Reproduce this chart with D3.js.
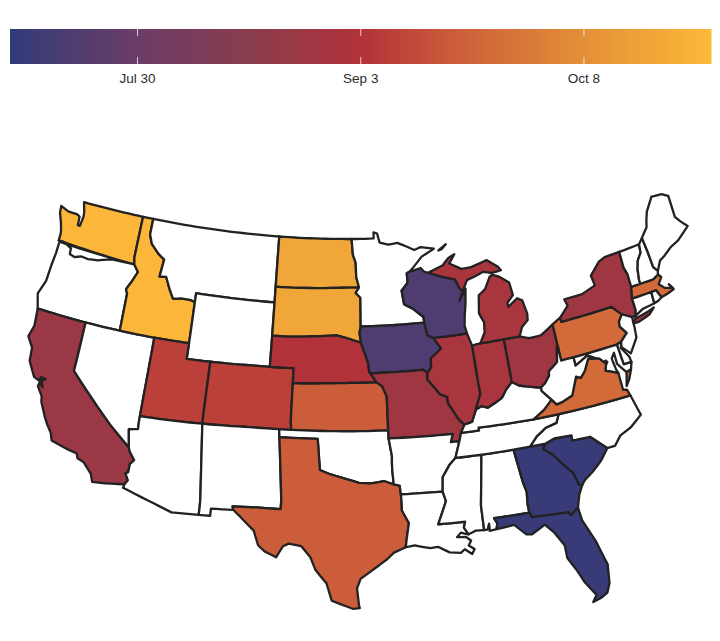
<!DOCTYPE html>
<html>
<head>
<meta charset="utf-8">
<script src="https://d3js.org/d3.v7.min.js"></script>
<style>
  html, body { margin: 0; padding: 0; background: #fff; }
  text { font-family: "Liberation Sans", Arial, sans-serif; }
</style>
</head>
<body>
<div id="chart"></div>
<script>
// Dates. Years don't matter, only the order on the bar.
var state_names = ["WA","ID","ND","SD","MA","PA","VA","KS","TX","CA","UT","CO","NE","IL","IN","MI","MO","OH","NY","WI","IA","GA","SC","FL"];
var state_dates = ["Oct 27","Oct 27","Oct 19","Oct 19","Sep 23","Sep 23","Sep 23","Sep 18","Sep 18","Aug 24","Sep 8","Sep 8","Sep 3","Aug 30","Aug 30","Aug 30","Aug 26","Aug 26","Aug 26","Jul 20","Jul 20","Jul 12","Jul 12","Jul 12"];

var tick_labels = ["Jul 30", "Sep 3", "Oct 8"];
var color_dates = ["Jul 10", "Jul 30", "Aug 18", "Sep 3", "Sep 20", "Oct 8", "Oct 28"];
var color_values = ["#323b7a", "#6b3d66", "#8c3c4c", "#b23239", "#cf633a", "#e38f37", "#fdb93a"];

// Shared borders in lon/lat, reused by both neighbours.
var columbia = [[-116.92,46.0],[-118.98,46.0],[-119.3,45.93],[-120.2,45.73],[-121.1,45.65],[-121.7,45.7],[-122.3,45.55],[-122.76,45.65],[-122.8,46.0],[-123.2,46.15],[-123.55,46.26],[-124.05,46.27]];
var snake = [[-116.92,46.0],[-116.47,45.6],[-116.85,44.95],[-117.2,44.45],[-117.03,44.2],[-117.03,42]];
var colorado = [[-114.63,35.0],[-114.57,34.8],[-114.15,34.27],[-114.45,34.0],[-114.52,33.5],[-114.72,33.4],[-114.5,33.0],[-114.72,32.72]];
var bitterroot = [[-116.05,48.0],[-115.72,47.45],[-114.95,46.93],[-114.35,46.65],[-114.5,45.6],[-113.9,45.65],[-113.45,45.0],[-113.0,44.45],[-112.3,44.55],[-111.5,44.55],[-111.05,44.48]];
var red_north = [[-97.23,49],[-97.1,48],[-96.85,47.5],[-96.8,46.6],[-96.56,45.94]];
var red_south = [[-94.48,33.64],[-95.2,33.88],[-96.2,33.75],[-97.1,33.8],[-97.9,34.0],[-98.5,34.15],[-99.2,34.3],[-100,34.56]];
var big_sioux = [[-96.45,43.5],[-96.55,43.1],[-96.45,42.49]];
var missouri_ne = [[-96.45,42.49],[-96.1,41.7],[-95.9,41.2],[-95.85,40.7]];
var missouri_ks = [[-95.31,40],[-94.9,39.75],[-94.6,39.1]];
var miss_upper = [[-92.29,46.07],[-92.87,45.6],[-92.75,44.75],[-92,44.4],[-91.25,43.85],[-91.22,43.5]];
var miss_ia = [[-91.22,43.5],[-91.1,42.7],[-90.65,42.5]];
var miss_il_ia = [[-90.65,42.5],[-90.15,41.8],[-91.05,41.25],[-91.1,40.7],[-91.42,40.38]];
var miss_il_mo = [[-91.42,40.38],[-91.5,40],[-91,39.4],[-90.7,39],[-90.2,38.8],[-90.2,38.4],[-89.9,37.95],[-89.5,37.3],[-89.13,36.98]];
var miss_ar = [[-89.7,36],[-90.1,35]];
var miss_ar_ms = [[-90.1,35],[-90.6,34.6],[-91.1,33.9],[-91.17,33]];
var miss_la = [[-91.17,33],[-91,32.4],[-91.6,31]];
var sabine = [[-94.04,33],[-94.04,32],[-93.55,31.2],[-93.7,30.5],[-93.85,29.7]];
var savannah = [[-83.1,35],[-83.35,34.7],[-82.75,34.3],[-82,33.5],[-81.4,32.9],[-81.1,32.1],[-80.87,32.03]];
var ohio_ky_il = [[-89.13,36.98],[-88.5,37.1],[-88.05,37.8]];
var ohio_ky_in = [[-88.05,37.8],[-87.6,37.95],[-87.1,37.8],[-86.5,38],[-85.85,38.25],[-85.4,38.7],[-84.82,39.1]];
var ohio_ky_oh = [[-84.82,39.1],[-84.3,38.8],[-83.7,38.65],[-82.6,38.4]];
var ohio_wv = [[-82.6,38.4],[-82.2,38.6],[-81.75,39],[-81.7,39.25],[-80.87,39.7],[-80.6,40.6],[-80.52,40.64]];
var wabash = [[-87.53,41.7],[-87.53,39.35],[-87.5,38.7],[-87.95,38],[-88.05,37.8]];
var tug_fork = [[-82.6,38.4],[-82.6,38.2],[-81.97,37.54]];
var va_ky = [[-81.97,37.54],[-82.7,37.05],[-83.68,36.6]];
var va_wv = [[-77.75,39.3],[-78.35,39.4],[-78.85,38.75],[-79.3,38.4],[-79.65,38.55],[-80.3,37.5],[-81.2,37.25],[-81.67,37.2],[-81.97,37.54]];
var potomac = [[-76.3,38.05],[-76.95,38.3],[-77.25,38.4],[-77.05,38.8],[-77.45,39.2],[-77.75,39.3]];
var tn_nc = [[-81.68,36.59],[-82,36.1],[-82.9,35.95],[-83.7,35.55],[-84.32,35]];
var sc_nc = [[-83.1,35],[-82.4,35.2],[-81.05,35.15],[-81.05,34.85],[-80.8,34.82],[-79.67,34.8],[-78.55,33.86]];
var ny_pa_nj = [[-75.35,42],[-74.7,41.36]];
var delaware = [[-74.7,41.36],[-75.1,41],[-75.15,40.7],[-74.75,40.2],[-75.4,39.8]];
var ct_river = [[-71.5,45],[-71.6,44.5],[-72.05,44.1],[-72.3,43.6],[-72.45,43],[-72.46,42.73]];
var vt_ny = [[-73.27,42.75],[-73.25,43.55],[-73.4,44],[-73.35,45]];
var wi_up = [[-90.4,46.55],[-89.1,46.15],[-88.1,45.9],[-87.85,45.35],[-87.6,45.1]];
var nh_me = [[-71.08,45.3],[-71,44.3],[-70.98,43.4],[-70.7,43.07]];

function rv(a) { return a.slice().reverse(); }

var outlines = {
  WA: [[[-122.76,49],[-117.03,49],[-117.04,46.42],...columbia,[-124.05,46.7],[-124.1,46.9],[-124.3,47.35],[-124.65,47.95],[-124.72,48.38],[-123.95,48.17],[-123.1,48.15],[-122.8,48.05],[-122.75,47.5],[-122.55,47.5],[-122.45,48.1],[-122.5,48.4]]],
  OR: [[...rv(columbia),[-123.95,46.2],[-123.97,45.5],[-124.07,44.7],[-124.15,43.7],[-124.55,42.84],[-124.21,42],[-120,42],[-117.03,42],...rv(snake).slice(1)]],
  CA: [[[-124.21,42],[-120,42],[-120,39],...colorado,[-117.12,32.53],[-117.28,33],[-117.9,33.6],[-118.4,33.75],[-118.5,34.03],[-119.2,34.15],[-120.5,34.45],[-120.65,34.9],[-121.3,35.7],[-121.9,36.6],[-122,36.95],[-122.5,37.5],[-122.45,37.75],[-122.1,37.5],[-122.35,37.9],[-122.05,38.05],[-122.45,38.1],[-122.5,37.85],[-123,38],[-123.7,38.9],[-123.8,39.7],[-124.35,40.3],[-124.1,41]]],
  NV: [[[-120,42],[-117.03,42],[-114.04,42],[-114.04,36.2],[-114.75,36.1],[-114.63,35],[-120,39]]],
  ID: [[[-117.03,49],[-116.05,49],...bitterroot,[-111.05,42],[-114.04,42],...rv(snake),[-117.04,46.42]]],
  MT: [[[-116.05,49],[-104.05,49],[-104.05,45.94],[-104.05,45],[-111.05,45],...rv(bitterroot)]],
  WY: [[[-111.05,45],[-104.05,45],[-104.05,43],[-104.05,41],[-111.05,41]]],
  UT: [[[-114.04,42],[-111.05,42],[-111.05,41],[-109.05,41],[-109.05,37],[-114.04,37]]],
  CO: [[[-109.05,41],[-102.05,41],[-102.05,37],[-103,37],[-109.05,37]]],
  AZ: [[[-114.04,37],[-109.05,37],[-109.05,31.33],[-111.07,31.33],[-114.81,32.5],...rv(colorado),[-114.75,36.1],[-114.04,36.2]]],
  NM: [[[-109.05,37],[-103,37],[-103,36.5],[-103.04,32],[-106.62,32],[-106.53,31.78],[-108.2,31.78],[-108.2,31.33],[-109.05,31.33]]],
  ND: [[[-104.05,49],...red_north,[-104.05,45.94]]],
  SD: [[[-104.05,45.94],[-96.56,45.94],[-96.85,45.6],[-96.45,45.3],...big_sioux,[-97.85,42.85],[-98.5,43],[-104.05,43]]],
  NE: [[[-104.05,43],[-98.5,43],[-97.85,42.85],...missouri_ne,[-95.31,40],[-102.05,40],[-102.05,41],[-104.05,41]]],
  KS: [[[-102.05,40],...missouri_ks,[-94.62,37],[-102.05,37]]],
  OK: [[[-103,37],[-94.62,37],[-94.62,36.5],[-94.43,35.4],...red_south,[-100,36.5],[-103,36.5]]],
  TX: [[[-103,36.5],[-100,36.5],...rv(red_south),[-94.04,33.55],...sabine,[-94.7,29.4],[-95.2,29],[-96,28.5],[-97.1,27.8],[-97.35,27.2],[-97.2,26.1],[-97.15,25.96],[-97.6,25.9],[-98.5,26.2],[-99.1,26.4],[-99.5,27.5],[-100.3,28.3],[-100.7,29.1],[-101.4,29.77],[-102.3,29.88],[-102.7,29.7],[-103.15,28.98],[-104,29.3],[-104.5,29.65],[-104.9,30.55],[-106,31.4],[-106.53,31.78],[-106.62,32],[-103.04,32]]],
  MN: [[[-97.23,49],[-95.15,49],[-95.15,49.38],[-94.82,49.3],[-94.6,48.72],[-93.8,48.55],[-92.95,48.62],[-92,48.3],[-91.4,48.07],[-90.8,48.2],[-89.6,48],[-90.8,47.6],[-92,46.75],[-92.29,46.66],...miss_upper,[-96.45,43.5],[-96.45,45.3],[-96.85,45.6],...rv(red_north)]],
  IA: [[[-96.45,43.5],...miss_ia,...miss_il_ia,[-91.72,40.6],[-95.77,40.58],...rv(missouri_ne),...rv(big_sioux).slice(1)]],
  MO: [[[-95.77,40.58],[-91.72,40.6],...miss_il_mo,[-89.5,36.5],[-89.7,36],[-90.37,36],[-90.15,36.5],[-94.62,36.5],[-94.62,37],...rv(missouri_ks),[-95.85,40.7]]],
  AR: [[[-94.62,36.5],[-90.15,36.5],[-90.37,36],...miss_ar,...miss_ar_ms,[-94.04,33],[-94.04,33.55],[-94.48,33.64],[-94.43,35.4]]],
  LA: [[[-94.04,33],...miss_la,[-89.73,31],[-89.85,30.65],[-89.55,30.2],[-90.1,30.35],[-90.4,30.1],[-89.75,30.05],[-89.4,29.8],[-89.6,29.5],[-89.2,29.25],[-89.4,28.95],[-89.9,29.3],[-90.2,29.1],[-91,29.2],[-91.7,29.6],[-92.2,29.55],[-93.2,29.78],...rv(sabine)]],
  MS: [[[-90.1,35],[-88.2,35],[-88.1,34.9],[-88.47,31.9],[-88.4,30.35],[-89,30.38],[-89.55,30.2],[-89.85,30.65],[-89.73,31],...rv(miss_la),...rv(miss_ar_ms).slice(1)]],
  AL: [[[-88.2,35],[-85.6,35],[-85.18,32.87],[-85,32.3],[-85.05,31.55],[-85,31],[-87.6,31],[-87.4,30.65],[-87.5,30.3],[-88,30.25],[-88,30.7],[-88.15,30.35],[-88.4,30.35],[-88.47,31.9],[-88.1,34.9]]],
  GA: [[[-85.6,35],...savannah,[-81.2,31.5],[-81.45,30.72],[-82.05,30.36],[-82.2,30.57],[-84.86,30.7],[-85,31],[-85.05,31.55],[-85,32.3],[-85.18,32.87]]],
  FL: [[[-87.6,31],[-85,31],[-84.86,30.7],[-82.2,30.57],[-82.05,30.36],[-81.45,30.72],[-81.3,29.9],[-80.6,28.5],[-80.05,26.9],[-80.15,25.75],[-80.4,25.2],[-80.9,24.95],[-81.45,24.8],[-81.15,25.2],[-81.8,26.1],[-82.2,26.9],[-82.75,27.8],[-82.8,28.6],[-83.4,29.5],[-84,30.1],[-85,29.65],[-85.4,29.7],[-86.2,30.4],[-87.5,30.3],[-87.4,30.65]]],
  SC: [[...sc_nc,[-79.2,33.2],[-79.9,32.7],[-80.6,32.3],...rv(savannah).slice(0,-1)]],
  NC: [[[-81.68,36.59],[-75.87,36.55],[-75.5,35.25],[-76.5,34.7],[-77.4,34.4],[-77.95,33.87],...rv(sc_nc),...rv(tn_nc)]],
  TN: [[[-89.7,36],[-89.5,36.5],[-88.07,36.5],[-88.07,36.68],[-83.68,36.6],...tn_nc,[-85.6,35],[-88.2,35],[-90.1,35]]],
  KY: [[[-89.5,36.5],...ohio_ky_il,...ohio_ky_in,...ohio_ky_oh,...tug_fork,...va_ky,[-88.07,36.68],[-88.07,36.5]]],
  IL: [[[-90.65,42.5],[-87.8,42.5],...wabash,...rv(ohio_ky_il),...rv(miss_il_mo),...rv(miss_il_ia)]],
  IN: [[...wabash.slice(0,1),[-87.2,41.75],[-86.82,41.76],[-84.8,41.76],...rv(ohio_ky_in),...rv(wabash).slice(0,-1)]],
  OH: [[[-84.8,41.76],[-83.45,41.73],[-82.7,41.5],[-81.7,41.5],[-80.52,41.98],...rv(ohio_wv),...rv(ohio_ky_oh)]],
  MI: [
    [[-86.82,41.76],[-86.3,42.4],[-86.2,43],[-86.5,43.6],[-86.25,44.7],[-85.6,45],[-85,45.7],[-84.75,45.78],[-84.2,45.6],[-83.4,45.1],[-83.3,44.3],[-83.9,43.9],[-83.9,43.65],[-83,44.05],[-82.6,43.85],[-82.42,43],[-82.5,42.6],[-83.1,42.25],[-83.45,41.73],[-84.8,41.76]],
    [...wi_up,[-87.05,45.75],[-86.5,45.85],[-85.5,46.08],[-84.75,45.9],[-83.9,45.95],[-84.1,46.2],[-84.5,46.45],[-85,46.75],[-86.5,46.5],[-87.4,46.5],[-88.4,46.95],[-87.8,47.47],[-88.4,47.3],[-89,46.9]],
    [[-89.2,47.85],[-88.45,48.17],[-88.9,47.9]]
  ],
  WI: [[[-92.29,46.66],[-92,46.75],[-91,46.9],[-90.75,46.65],...wi_up,[-88,44.55],[-87.3,45.25],[-87.5,44.4],[-87.75,43.6],[-87.9,43],[-87.8,42.5],[-90.65,42.5],...rv(miss_ia),...rv(miss_upper)]],
  PA: [[[-80.52,41.98],[-79.76,42.27],[-79.76,42],...ny_pa_nj,...delaware,[-75.79,39.72],[-79.48,39.72],[-80.52,39.72],[-80.52,40.64]]],
  NY: [
    [[-79.76,42.27],[-78.9,42.85],[-79.05,43.27],[-77.5,43.27],[-76.2,43.55],[-76.3,44.2],[-75.3,44.85],[-74.7,45],...rv(vt_ny),[-73.5,42.05],[-73.5,41.3],[-73.65,41],[-73.95,41],[-74.7,41.36],[-75.35,42],[-79.76,42]],
    [[-74,40.6],[-73.75,40.85],[-72.6,40.98],[-72,41.1],[-72.5,40.8],[-73.5,40.6]]
  ],
  NJ: [[[-74.7,41.36],[-73.95,41],[-74,40.6],[-74,40.4],[-74.1,39.75],[-74.9,38.95],[-75.5,39.5],...rv(delaware).slice(0,-1)]],
  DE: [[[-75.79,39.72],[-75.4,39.8],[-75.55,39.45],[-75.1,38.8],[-75.05,38.45],[-75.7,38.45]]],
  MD: [[[-79.48,39.72],[-75.79,39.72],[-75.7,38.45],[-75.05,38.45],[-75.25,38.03],[-75.65,37.95],[-76.2,38.6],[-76.2,39.3],[-76.5,39],[-76.4,38.3],...potomac,[-78.35,39.6],[-79.48,39.2]]],
  DC: [[[-77.12,38.93],[-77.04,39],[-76.91,38.89],[-77.04,38.79]]],
  VA: [
    [[-83.68,36.6],[-75.87,36.55],[-76,36.93],[-76.3,37],[-76.3,37.6],...potomac,...va_wv,...va_ky],
    [[-75.25,38.03],[-75.65,37.95],[-75.95,37.15],[-75.6,37.5]]
  ],
  WV: [[[-80.52,40.64],[-80.52,39.72],[-79.48,39.72],[-79.48,39.2],[-78.35,39.6],...va_wv,...rv(tug_fork),...ohio_wv]],
  MA: [[[-73.5,42.05],[-73.27,42.75],[-72.46,42.73],[-71.3,42.7],[-70.8,42.87],[-70.6,42.65],[-71,42.3],[-70.6,41.95],[-70.05,41.8],[-70.2,42.07],[-70,41.8],[-69.95,41.68],[-70.65,41.55],[-71.13,41.5],[-71.38,42.02],[-71.8,42.02]]],
  CT: [[[-73.5,42.05],[-71.8,42.02],[-71.85,41.32],[-72.9,41.25],[-73.65,41],[-73.5,41.3]]],
  RI: [[[-71.8,42.02],[-71.38,42.02],[-71.13,41.5],[-71.5,41.37],[-71.85,41.32]]],
  VT: [[[-73.35,45],...ct_river,...vt_ny.slice(0,-1)]],
  NH: [[...ct_river,[-71.3,42.7],[-70.8,42.87],...rv(nh_me)]],
  ME: [[...nh_me,[-70.25,43.6],[-69.8,43.75],[-69,44.1],[-68.2,44.3],[-67,44.85],[-67.45,45.3],[-67.79,45.7],[-67.79,47.07],[-68.3,47.35],[-69,47.43],[-69.23,47.46],[-70,46.7],[-70.25,46.2],[-70.4,45.8]]]
};

var width = 720, height = 641;
var parse_date = d3.timeParse("%b %d %Y");
function to_date(s) { return parse_date(s + " 2020"); }

var svg = d3.select("#chart").append("svg")
  .attr("width", width)
  .attr("height", height)
  .style("display", "block");

var color = d3.scaleTime()
  .domain(color_dates.map(to_date))
  .range(color_values)
  .interpolate(d3.interpolateRgb);

// Colour bar.
var bar_x = d3.scaleTime()
  .domain([to_date("Jul 10"), to_date("Oct 28")])
  .range([10, 711.5]);
var bar_top = 29, bar_height = 35;

var grad = svg.append("defs").append("linearGradient").attr("id", "bar_fill");
grad.selectAll("stop")
  .data(color_dates)
  .enter().append("stop")
  .attr("offset", function(d) { return (bar_x(to_date(d)) - 10) / 701.5; })
  .attr("stop-color", function(d) { return color(to_date(d)); });

svg.append("rect")
  .attr("x", bar_x.range()[0])
  .attr("y", bar_top)
  .attr("width", bar_x.range()[1] - bar_x.range()[0])
  .attr("height", bar_height)
  .attr("fill", "url(#bar_fill)");

var ticks = svg.append("g").selectAll("g")
  .data(tick_labels)
  .enter().append("g")
  .attr("transform", function(d) { return "translate(" + bar_x(to_date(d)) + ",0)"; });

ticks.append("line").attr("y1", bar_top).attr("y2", bar_top + 7)
  .attr("stroke", "#fff").attr("stroke-opacity", 0.75);
ticks.append("line").attr("y1", bar_top + bar_height - 7).attr("y2", bar_top + bar_height)
  .attr("stroke", "#fff").attr("stroke-opacity", 0.75);
ticks.append("text")
  .attr("y", 82.5)
  .attr("text-anchor", "middle")
  .attr("fill", "#2b2b2b")
  .style("font-size", "13.5px")
  .text(function(d) { return d; });

// Map. Albers, then a small pull to match the source's shape, which isn't quite a clean conic.
var albers = d3.geoAlbers()
  .rotate([97, 0])
  .center([0, 49])
  .parallels([29.5, 45.5])
  .scale(915)
  .translate([354, 239]);

function clamp(v) { return Math.max(0, Math.min(1, v)); }

function warp(p) {
  var x = p[0], y = p[1];
  var t = Math.max(0, (x - 354) / 334);
  var f = Math.max(0.35, 1 - 0.6 * (y - 250) / 350);
  var dx = Math.max(12 * clamp((y - 250) / 190) * Math.min(1, t * 4), 8 * clamp((y - 420) / 80));
  var dy = -26 * Math.pow(t, 1.5) * f;
  dy += 4 * Math.exp(-Math.pow((y - 335) / 60, 2)) * clamp((350 - x) / 60);
  dy += 7 * clamp((y - 300) / 170) * clamp((250 - x) / 150);
  return [x + dx, y + dy];
}

// Long straight runs follow the parallels, so add points before projecting.
function densify(ring) {
  var out = [];
  ring.forEach(function(a, i) {
    var b = ring[(i + 1) % ring.length];
    var n = Math.ceil(Math.max(Math.abs(b[0] - a[0]), Math.abs(b[1] - a[1])) / 0.5);
    d3.range(n).forEach(function(k) {
      out.push([a[0] + (b[0] - a[0]) * k / n, a[1] + (b[1] - a[1]) * k / n]);
    });
  });
  return out;
}

var line = d3.line().curve(d3.curveLinearClosed);

function state_path(rings) {
  return rings.map(function(r) {
    return line(densify(r).map(function(c) { return warp(albers(c)); }));
  }).join("");
}

var state_color = d3.scaleOrdinal().domain(state_names).range(state_dates.map(function(s) { return color(to_date(s)); })).unknown("#fff");

svg.append("g").selectAll("path")
  .data(Object.keys(outlines))
  .enter().append("path")
  .attr("d", function(d) { return state_path(outlines[d]); })
  .attr("fill", function(d) { return state_color(d); })
  .attr("stroke", "#222")
  .attr("stroke-width", 2.3)
  .attr("stroke-linejoin", "round");
</script>
</body>
</html>
